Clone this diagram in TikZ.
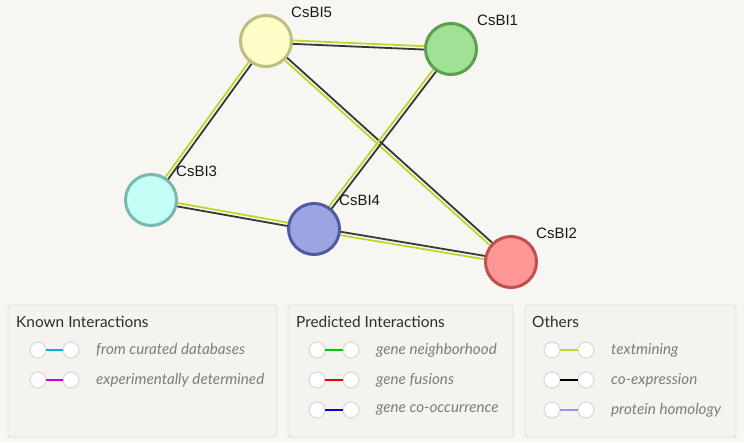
\documentclass[tikz,border=0pt]{standalone}
\usepackage{fontspec}
\setmainfont{Liberation Sans}
\newfontfamily\legfont{Lato}
\usetikzlibrary{calc,backgrounds}
\definecolor{bgc}{RGB}{247,246,242}
\definecolor{boxfill}{RGB}{244,243,239}
\definecolor{boxdraw}{RGB}{222,221,217}
\definecolor{tmine}{RGB}{190,215,45}
\definecolor{coexp}{RGB}{55,55,55}
\definecolor{legtext}{RGB}{125,125,125}
\definecolor{legtitle}{RGB}{45,45,45}
\definecolor{curated}{RGB}{0,180,215}
\definecolor{experim}{RGB}{205,0,205}
\definecolor{neigh}{RGB}{0,200,0}
\definecolor{fusion}{RGB}{240,0,0}
\definecolor{cooc}{RGB}{0,0,230}
\definecolor{homol}{RGB}{150,150,240}
\definecolor{fA}{RGB}{255,253,200}\definecolor{dA}{RGB}{190,190,130}
\definecolor{fB}{RGB}{160,225,150}\definecolor{dB}{RGB}{90,160,80}
\definecolor{fC}{RGB}{195,255,245}\definecolor{dC}{RGB}{120,185,175}
\definecolor{fD}{RGB}{155,165,225}\definecolor{dD}{RGB}{80,90,160}
\definecolor{fE}{RGB}{255,150,150}\definecolor{dE}{RGB}{190,80,80}
\newcommand\pairedge[2]{%
  \draw[tmedge] ($(#1.center)!1.7pt!90:(#2.center)$) -- ($(#2.center)!1.7pt!-90:(#1.center)$);
  \draw[coedge] ($(#1.center)!1.7pt!-90:(#2.center)$) -- ($(#2.center)!1.7pt!90:(#1.center)$);}
\newcommand\legitem[6]{% name, x1, x2, y, color, text
  \node[legdot] (#1a) at (#2,#4) {};
  \node[legdot] (#1b) at (#3,#4) {};
  \draw[legline,#5] (#1a) -- (#1b);
  \node[legitemtext] (#1t) at ($(#3,#4)+(25,0)$) {#6};}
\begin{document}
\begin{tikzpicture}[x=1pt,y=-1pt,
  prot/.style={circle,line width=3pt,minimum size=51pt,inner sep=0pt},
  lab/.style={anchor=base west,font=\fontsize{15}{17}\selectfont,text=black!90,inner sep=0pt},
  tmedge/.style={draw=tmine,line width=1.8pt},
  coedge/.style={draw=coexp,line width=1.8pt},
  legbox/.style={draw=boxdraw,fill=boxfill,rounded corners=3pt,line width=0.8pt},
  legtitlestyle/.style={anchor=base west,inner sep=0pt,text=legtitle,font=\legfont\fontsize{15.4}{17}\selectfont},
  legdot/.style={circle,draw=boxdraw,fill=white,line width=1.3pt,minimum size=16pt,inner sep=0pt},
  legline/.style={line width=2.2pt,shorten <=-0.6pt,shorten >=-0.6pt},
  legitemtext/.style={anchor=west,inner sep=0pt,text=legtext,font=\legfont\itshape\fontsize{15.2}{17}\selectfont}]
\path[use as bounding box] (0,0) rectangle (744,442);
% proteins
\node[prot,fill=fA,draw=dA] (n5) at (266,41) {};
\node[prot,fill=fB,draw=dB] (n1) at (451,49) {};
\node[prot,fill=fC,draw=dC] (n3) at (151,200) {};
\node[prot,fill=fD,draw=dD] (n4) at (314,229) {};
\node[prot,fill=fE,draw=dE] (n2) at (511,262) {};
\node[lab] (l5) at (291,17) {CsBI5};
\node[lab] (l1) at (477,25) {CsBI1};
\node[lab] (l3) at (176,176) {CsBI3};
\node[lab] (l4) at (339,205) {CsBI4};
\node[lab] (l2) at (536,238) {CsBI2};
\begin{scope}[on background layer]
\fill[bgc] (0,0) rectangle (744,442);
\pairedge{n5}{n1}
\pairedge{n3}{n5}
\pairedge{n2}{n5}
\pairedge{n4}{n1}
\pairedge{n3}{n4}
\pairedge{n2}{n4}
\end{scope}
% legend boxes
\draw[legbox] (8,305) rectangle (277,437);
\draw[legbox] (288,305) rectangle (513,437);
\draw[legbox] (525,305) rectangle (736,437);
\node[legtitlestyle] (t1) at (16,327) {Known Interactions};
\node[legtitlestyle] (t2) at (296,327) {Predicted Interactions};
\node[legtitlestyle] (t3) at (532,327) {Others};
\legitem{ka}{38}{71}{350}{curated}{from curated databases}
\legitem{kb}{38}{71}{380}{experim}{experimentally determined}
\legitem{pa}{317}{351}{350}{neigh}{gene neighborhood}
\legitem{pb}{317}{351}{380}{fusion}{gene fusions}
\legitem{pc}{317}{351}{410}{cooc}{gene co-occurrence}
\legitem{oa}{552}{586}{350}{tmine}{textmining}
\legitem{ob}{552}{586}{380}{black}{co-expression}
\legitem{oc}{552}{586}{410}{homol}{protein homology}
\end{tikzpicture}
\end{document}
